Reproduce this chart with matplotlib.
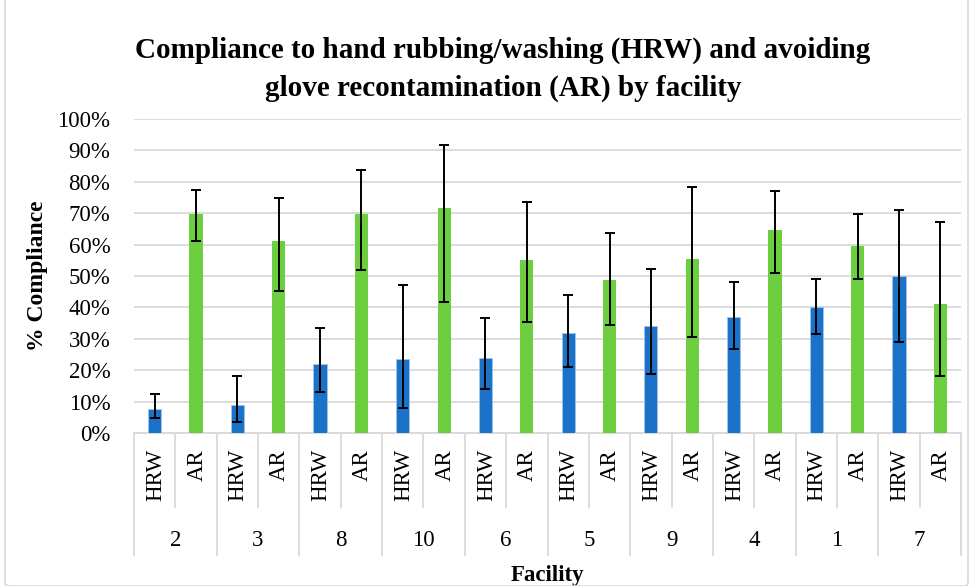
import numpy as np
import matplotlib.pyplot as plt
from matplotlib.patches import FancyBboxPatch

# facilities in the order shown
facilities = ['2', '3', '8', '10', '6', '5', '9', '4', '1', '7']
groups = ['HRW', 'AR']

hrw = [7.8, 9.0, 22.1, 23.6, 24.0, 31.8, 34.1, 37.1, 40.1, 50.0]
hrw_lo = [4.9, 3.6, 13.2, 8.1, 14.1, 21.1, 18.9, 26.8, 31.6, 29.0]
hrw_hi = [12.4, 18.0, 33.5, 47.1, 36.6, 44.1, 52.3, 48.2, 48.9, 70.9]

ar = [69.6, 61.0, 69.6, 71.5, 55.2, 48.8, 55.5, 64.8, 59.7, 41.2]
ar_lo = [61.1, 45.3, 51.8, 41.8, 35.5, 34.4, 30.6, 51.1, 48.9, 18.3]
ar_hi = [77.4, 75.0, 83.7, 91.7, 73.6, 63.6, 78.5, 77.1, 69.9, 67.1]

blue = '#1b72c9'
green = '#6dcf40'
grid_c = '#d9d9d9'
font = 'Liberation Serif'

W, H = 974, 586
fig = plt.figure(figsize=(W / 100, H / 100), dpi=100)

# chart area border
fig.patches.append(FancyBboxPatch((5 / W, 0), 963 / W, (H - 12) / H + 0.1,
                                  boxstyle='round,pad=0,rounding_size=0.005',
                                  transform=fig.transFigure, fill=False,
                                  edgecolor=grid_c, linewidth=1.2))

left, right, top, bot = 134, 961, 119, 433
ax = fig.add_axes([left / W, (H - bot) / H, (right - left) / W, (bot - top) / H])

n = len(facilities)
x_hrw = np.arange(n) * 2
x_ar = x_hrw + 1
bw = 0.32

hrw = np.array(hrw)
ar = np.array(ar)
err_h = [hrw - np.array(hrw_lo), np.array(hrw_hi) - hrw]
err_a = [ar - np.array(ar_lo), np.array(ar_hi) - ar]

ekw = dict(ecolor='black', elinewidth=1.4, capsize=3.8, capthick=1.4)
ax.bar(x_hrw, hrw, bw, color=blue, edgecolor='#9cc3ea', linewidth=0.7,
       yerr=err_h, error_kw=ekw, zorder=3)
ax.bar(x_ar, ar, bw, color=green, yerr=err_a, error_kw=ekw, zorder=3)

ax.set_xlim(-0.5, 2 * n - 0.5)
ax.set_ylim(0, 100)
ax.set_yticks(np.arange(0, 101, 10))
ax.set_yticklabels([f'{v}%' for v in range(0, 101, 10)], fontfamily=font,
                   fontsize=16.5)
ax.tick_params(axis='y', length=0, pad=17)
ax.set_xticks([])
ax.grid(axis='y', color=grid_c, linewidth=1.3, zorder=0)
for s in ['top', 'right', 'left']:
    ax.spines[s].set_visible(False)
ax.spines['bottom'].set_color(grid_c)
ax.spines['bottom'].set_linewidth(1.3)

# multi-level category axis
tr = ax.get_xaxis_transform()
ph = bot - top
y_in = -(507 - bot) / ph
y_out = -(555 - bot) / ph
for i in range(n):
    ax.plot([2 * i - 0.5] * 2, [0, y_out], transform=tr, color=grid_c,
            lw=1.3, clip_on=False)
    ax.plot([2 * i + 0.5] * 2, [0, y_in], transform=tr, color=grid_c,
            lw=1.3, clip_on=False)
    for j, g in enumerate(groups):
        ax.text(2 * i + j + 0.02, -(449 - bot) / ph, g, transform=tr,
                rotation=90, ha='center', va='top', fontfamily=font,
                fontsize=16.5)
    ax.text(2 * i + 0.5, -(540 - bot) / ph, facilities[i], transform=tr,
            ha='center', va='center', fontfamily=font, fontsize=16.5)
ax.plot([2 * n - 0.5] * 2, [0, y_out], transform=tr, color=grid_c,
        lw=1.3, clip_on=False)

ax.text(-0.5 + n, -(576 - bot) / ph, 'Facility', transform=tr, ha='center',
        va='center', fontfamily=font, fontsize=16.5, fontweight='bold')
fig.text(38 / W, 1 - 276 / H, '% Compliance', rotation=90, ha='center',
         va='center', fontfamily=font, fontsize=17, fontweight='bold')
fig.text(503 / W, 1 - 69 / H,
         'Compliance to hand rubbing/washing (HRW) and avoiding\n'
         'glove recontamination (AR) by facility',
         ha='center', va='center', fontfamily=font, fontsize=21,
         fontweight='bold', linespacing=1.5)

fig.savefig('out.png', dpi=100)
